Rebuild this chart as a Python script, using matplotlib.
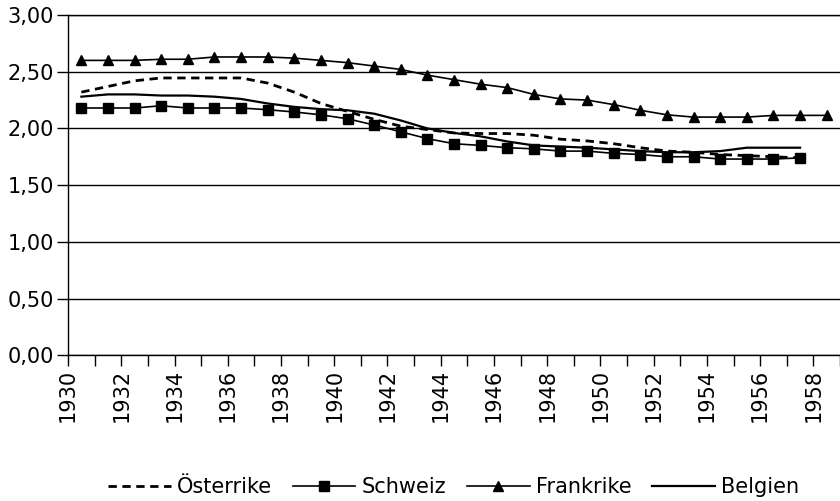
import matplotlib
matplotlib.use("Agg")
import matplotlib.pyplot as plt
import numpy as np

# data, one value per year from 1930
years_fr = np.arange(1930, 1959)
years = np.arange(1930, 1958)

frankrike = [2.60, 2.60, 2.60, 2.61, 2.61, 2.63, 2.63, 2.63, 2.62, 2.60,
             2.58, 2.55, 2.52, 2.47, 2.43, 2.39, 2.36, 2.30, 2.26, 2.25,
             2.21, 2.16, 2.12, 2.10, 2.10, 2.10, 2.115, 2.115, 2.115]
schweiz = [2.18, 2.18, 2.18, 2.20, 2.18, 2.18, 2.18, 2.165, 2.145, 2.12,
           2.085, 2.03, 1.97, 1.91, 1.865, 1.85, 1.83, 1.82, 1.80, 1.80,
           1.78, 1.77, 1.75, 1.75, 1.73, 1.73, 1.73, 1.74]
belgien = [2.28, 2.30, 2.30, 2.29, 2.29, 2.28, 2.26, 2.22, 2.19, 2.17,
           2.16, 2.13, 2.07, 2.00, 1.96, 1.93, 1.885, 1.85, 1.84, 1.83,
           1.815, 1.80, 1.79, 1.79, 1.80, 1.83, 1.83, 1.83]
oesterrike = [2.32, 2.37, 2.42, 2.445, 2.445, 2.445, 2.445, 2.40, 2.32, 2.22,
              2.15, 2.08, 2.02, 1.99, 1.96, 1.955, 1.955, 1.94, 1.905, 1.89,
              1.865, 1.83, 1.80, 1.79, 1.77, 1.76, 1.75, 1.74]

plt.rcParams['font.family'] = ['DejaVu Sans']
plt.rcParams['font.size'] = 15

fig = plt.figure(figsize=(8.4, 5.01), dpi=100)
ax = fig.add_axes([0.081, 0.291, 0.919, 0.679])

ax.plot(years + 0.5, oesterrike, color='black', lw=2, ls=(0, (3, 2)), label='Österrike')
ax.plot(years + 0.5, schweiz, color='black', lw=1.2, marker='s', ms=7, label='Schweiz')
ax.plot(years_fr + 0.5, frankrike, color='black', lw=1.2, marker='^', ms=7, label='Frankrike')
ax.plot(years + 0.5, belgien, color='black', lw=1.6, label='Belgien')

ax.set_xlim(1930, 1959)
ax.set_ylim(0, 3)
yt = np.arange(0, 3.01, 0.5)
ax.set_yticks(yt)
ax.set_yticklabels([('%.2f' % v).replace('.', ',') for v in yt])
ax.set_xticks(np.arange(1930, 1960))
ax.set_xticklabels([str(y) if (y % 2 == 0 and y < 1959) else '' for y in range(1930, 1960)],
                   rotation=90)
ax.tick_params(axis='both', direction='out', length=8, width=1, color='black')
ax.tick_params(axis='x', pad=2)
ax.tick_params(axis='y', pad=2)
ax.grid(axis='y', color='black', lw=1)
ax.set_axisbelow(True)
ax.spines['right'].set_visible(False)
for s in ['left', 'bottom', 'top']:
    ax.spines[s].set_linewidth(1)

fig.legend(loc='lower center', bbox_to_anchor=(0.54, -0.03), ncol=4, frameon=False,
           handlelength=3.0, columnspacing=1.0, handletextpad=0.3)

fig.savefig('out.png', dpi=100)
